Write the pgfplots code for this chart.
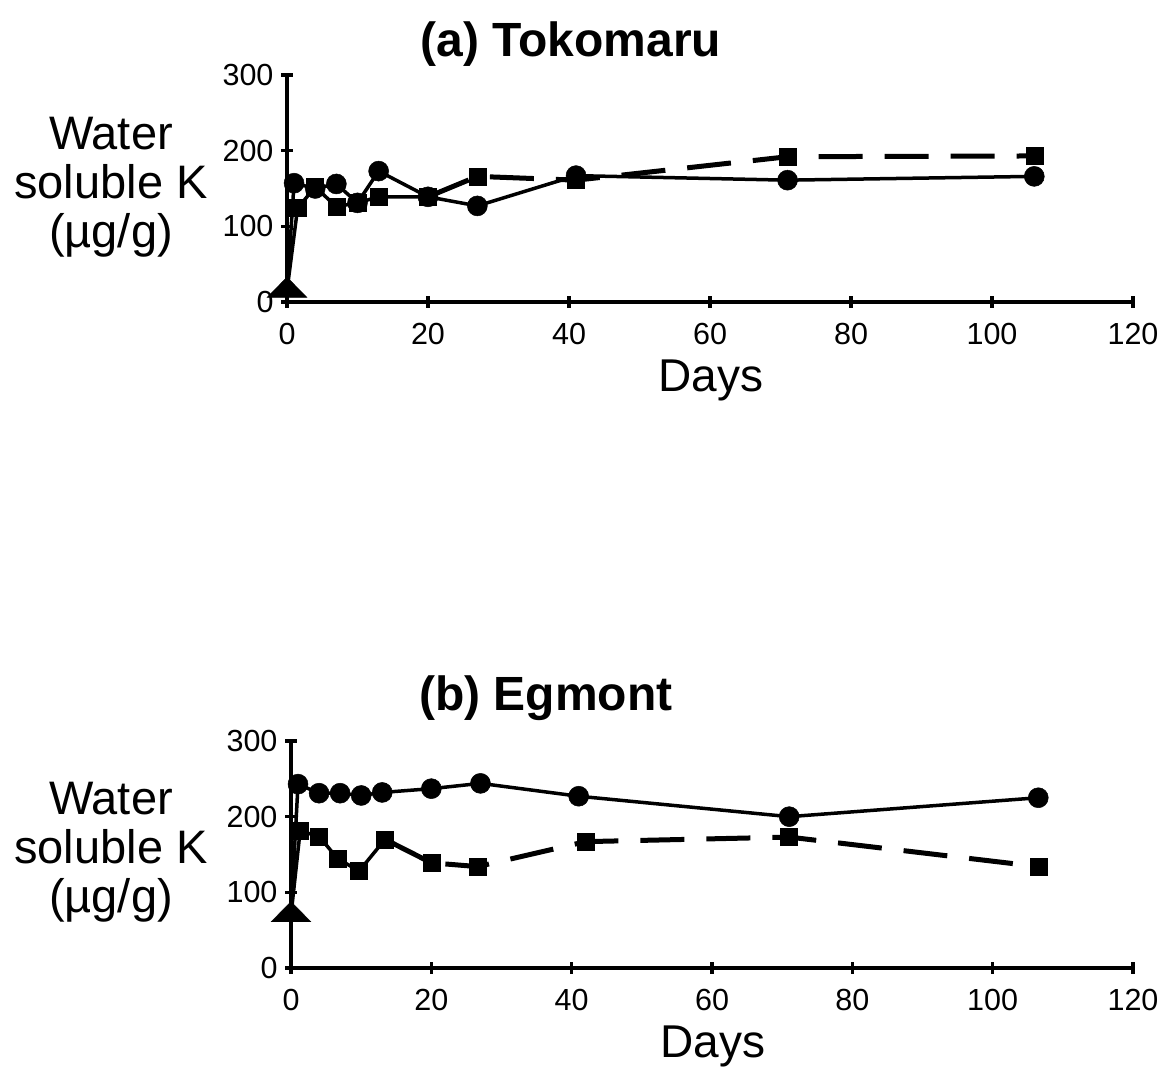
\documentclass[border=0pt]{standalone}
\usepackage{pgfplots}
\pgfplotsset{compat=1.18}
\usepackage{fontspec}
\setmainfont{Liberation Sans}

% Water soluble K after K addition, two soils
\pgfplotsset{
  kaxis/.style={
    scale only axis, width=#1, height=227pt,
    xmin=0, xmax=120, ymin=0, ymax=300,
    axis lines=left,
    axis line style={line width=4pt, -},
    xtick={0,20,...,120}, ytick={0,100,200,300},
    tick style={line width=3.5pt, black},
    major tick length=12pt, tick align=center,
    tick label style={font=\fontsize{30.5}{30.5}\selectfont},
    /pgf/number format/assume math mode=true,
    xticklabel style={yshift=-12pt},
    yticklabel style={xshift=-4pt},
    clip=false,
  },
  circ/.style={black, line width=3.5pt, mark=*, mark size=10pt, mark phase=2,
    mark options={solid, line width=0.5pt}},
  sqsolid/.style={black, line width=3.5pt, mark=square*, mark size=8.5pt, mark phase=2,
    mark options={solid, line width=0.5pt}},
  sqdash/.style={black, line width=5pt, dash pattern=on 44pt off 22pt, mark=square*,
    mark size=8.5pt, mark phase=2, mark options={solid, line width=0.5pt}},
  tri/.style={black, only marks, mark=triangle*, mark size=13.5pt,
    mark options={xscale=1.7}},
}

\begin{document}
\begin{tikzpicture}
\path[use as bounding box] (0,0) rectangle (1167pt,1070pt);

% ---------- (a) Tokomaru ----------
\begin{axis}[kaxis=846pt, at={(287pt,768pt)}, anchor=south west]
\addplot[circ] coordinates {(0,15) (1,157) (4,150) (7,156) (10,131) (13,173)
  (20,139) (27,127) (41,167) (71,161) (106,166)};
\addplot[sqsolid] coordinates {(0,15) (1.5,124) (4,152) (7,126) (10,131)
  (13,139) (20,139)};
\addplot[sqdash] coordinates {(20,139) (27,166) (41,161) (71,192) (106,193)};
\addplot[tri] coordinates {(0,15)};
\end{axis}
\node[font=\fontsize{48}{48}\bfseries\selectfont] at (571pt,1026pt) {(a) Tokomaru};
\node[font=\fontsize{46}{46}\selectfont, anchor=base] at (711pt,678pt) {Days};
\node[align=center, font=\fontsize{47}{49}\selectfont] at (111pt,883pt)
  {Water\\soluble K\\(µg/g)};

% ---------- (b) Egmont ----------
\begin{axis}[kaxis=842pt, at={(291pt,102pt)}, anchor=south west]
\addplot[circ] coordinates {(0,70) (1,243) (4,231) (7,231) (10,228) (13,232)
  (20,237) (27,244) (41,227) (71,200) (106.5,225)};
\addplot[sqsolid] coordinates {(0,70) (1.3,181) (4,174) (6.6,145) (9.7,128)
  (13.4,170)};
\addplot[sqdash] coordinates {(13.4,170) (20,139) (26.6,134) (42,167) (71,173)
  (106.5,134)};
\addplot[tri] coordinates {(0,70)};
\end{axis}
\node[font=\fontsize{48}{48}\bfseries\selectfont] at (546pt,372pt) {(b) Egmont};
\node[font=\fontsize{46}{46}\selectfont, anchor=base] at (713pt,12pt) {Days};
\node[align=center, font=\fontsize{47}{49}\selectfont] at (111pt,218pt)
  {Water\\soluble K\\(µg/g)};
\end{tikzpicture}
\end{document}
